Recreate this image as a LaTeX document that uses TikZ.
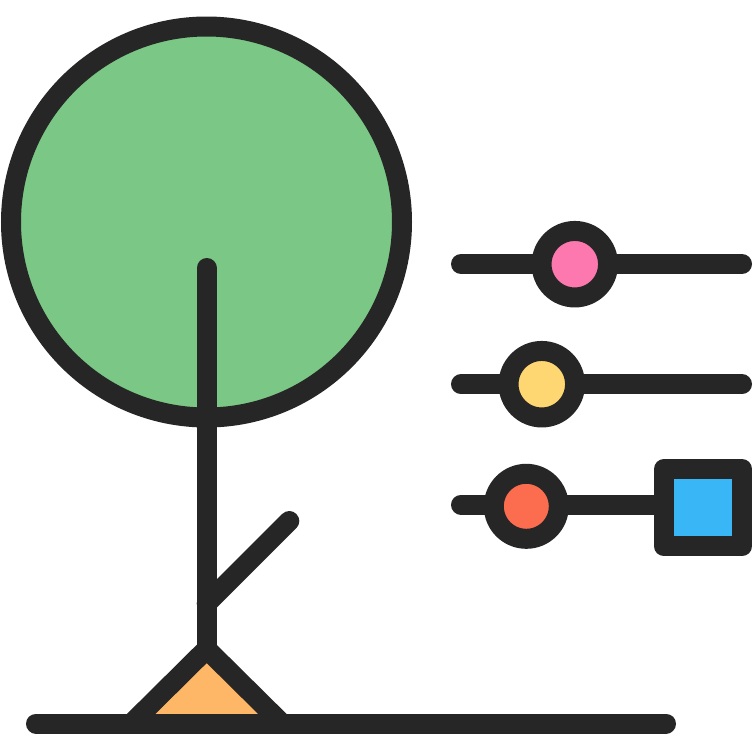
\documentclass[tikz,border=0pt]{standalone}
\definecolor{inkc}{HTML}{262626}
\definecolor{crown}{HTML}{7BC785}
\definecolor{tri}{HTML}{FDB766}
\definecolor{kp}{HTML}{FC78AE}
\definecolor{ky}{HTML}{FFD772}
\definecolor{kr}{HTML}{FC6C4F}
\definecolor{kb}{HTML}{38B6F5}
\begin{document}
\begin{tikzpicture}[x=1pt,y=-1pt,
  knob/.style={circle,draw=inkc,line width=20pt,inner sep=0pt,minimum size=66.5pt},
  stroke/.style={draw=inkc,line width=20pt,line cap=round,line join=round}]
\useasboundingbox (0,0) rectangle (753,753);
\fill[white] (0,0) rectangle (753,753);
% crown
\node[circle,draw=inkc,fill=crown,line width=20pt,inner sep=0pt,minimum size=391pt] (crownc) at (206.5,222) {};
% ground and triangle
\coordinate (g1) at (36,723.5);
\coordinate (g2) at (666,723.5);
\coordinate (ta) at (206.7,649);
\coordinate (tl) at (131.5,723.5);
\coordinate (tr) at (282,723.5);
\coordinate (st) at (206.7,268);
\coordinate (br) at (289.3,521);
\coordinate (bb) at (206.7,603.5);
\fill[tri] (tl) -- (ta) -- (tr) -- cycle;
\draw[stroke] (tl) -- (ta) -- (tr);
\draw[stroke] (g1) -- (g2);
\draw[stroke] (st) -- (ta);
\draw[stroke] (br) -- (bb);
% sliders
\coordinate (a1) at (461,264); \coordinate (a2) at (742,264);
\coordinate (b1) at (461,384.3); \coordinate (b2) at (742,384.3);
\coordinate (c1) at (461,504.7);
\draw[stroke] (a1) -- (a2);
\draw[stroke] (b1) -- (b2);
\node[rectangle,draw=inkc,fill=kb,line width=20pt,line join=round,minimum width=78pt,minimum height=77.5pt,inner sep=0pt] (sq) at (703,507.7) {};
\draw[stroke] (c1) -- (sq.west |- c1);
\node[knob,fill=kp] (k1) at (574.8,264.2) {};
\node[knob,fill=ky] (k2) at (541.8,384.2) {};
\node[knob,fill=kr,minimum size=65pt] (k3) at (526.3,506.3) {};
\end{tikzpicture}
\end{document}
